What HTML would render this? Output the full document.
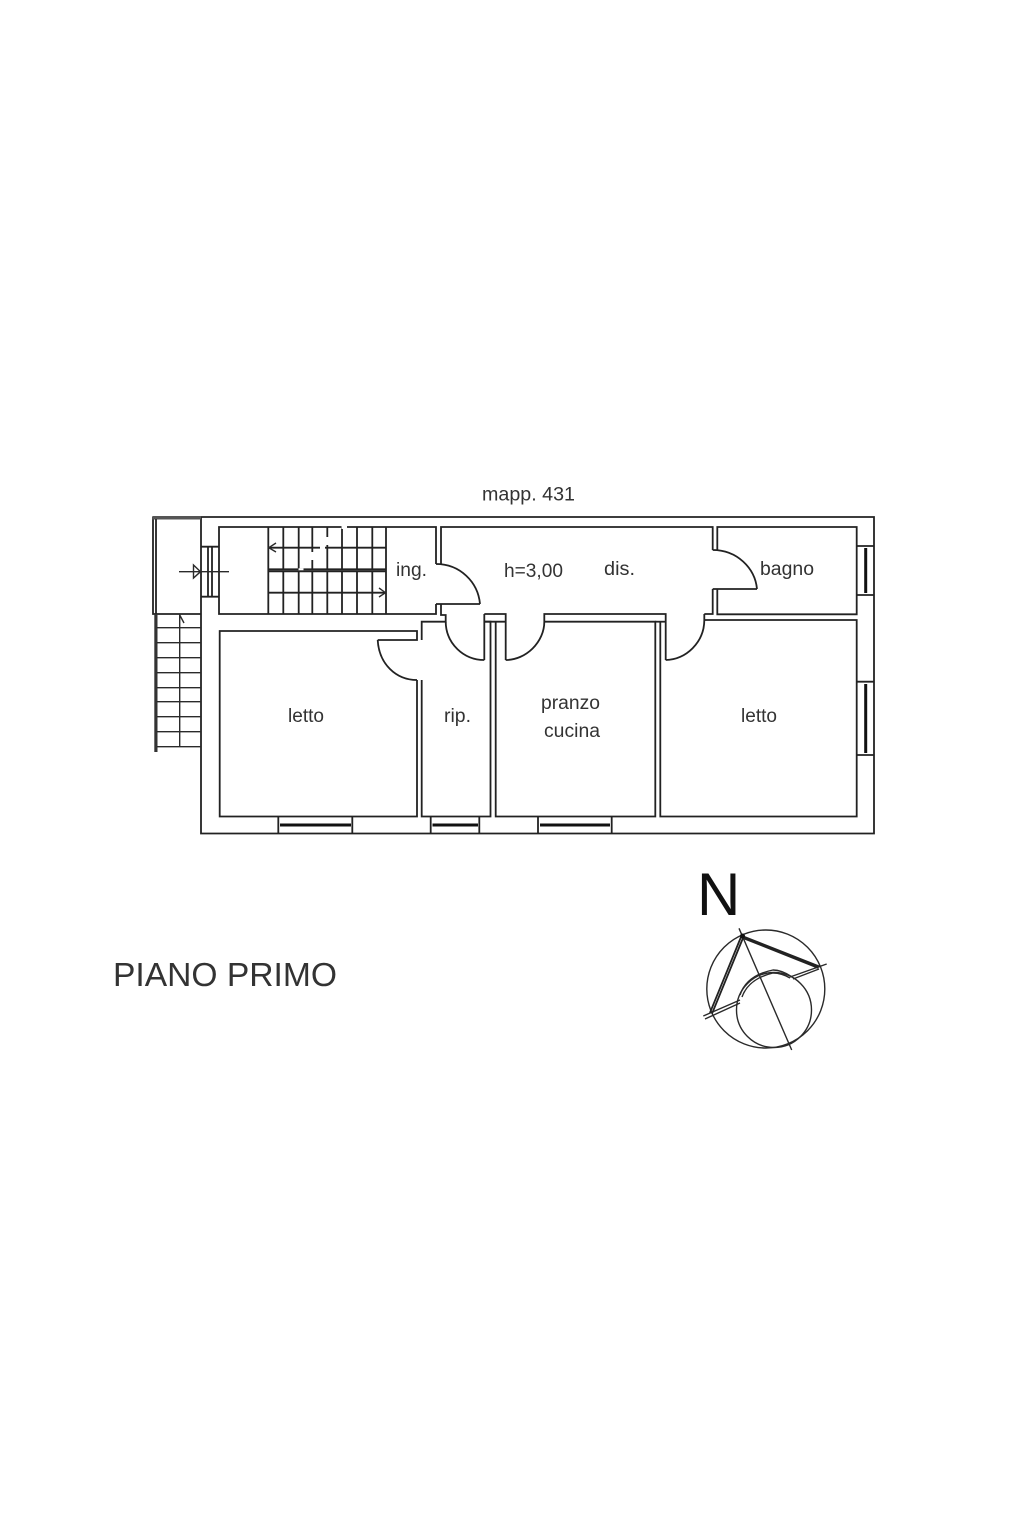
<!DOCTYPE html>
<html><head><meta charset="utf-8"><style>
html,body{margin:0;padding:0;background:#fff}
svg{display:block}
.w{fill:none;stroke:#222;stroke-width:1.8}
.t{fill:none;stroke:#2a2a2a;stroke-width:1.4}
.k{fill:none;stroke:#111;stroke-width:3}
text{font-family:"Liberation Sans",Arial,sans-serif;fill:#333;font-size:19px}
</style></head><body>
<svg width="1024" height="1536" viewBox="0 0 1024 1536" xmlns="http://www.w3.org/2000/svg">
<rect width="1024" height="1536" fill="#fff"/>

<!-- outer walls -->
<path class="w" d="M201 517H874V833.500H201Z"/>

<!-- balcony -->
<path class="w" d="M201 517.500H153V614H157"/>
<path d="M152.500 516H201V519.500H152.500Z" fill="#555"/>
<path class="w" d="M156 519V614H201"/>
<path d="M154.300 614H157.500V752H154.300Z" fill="#333"/>
<path class="t" d="M157 627.700H201M157 642.700H201M157 657.700H201M157 672.700H201M157 687.700H201M157 701.700H201M157 716.700H201M157 731.700H201M157 746.700H201M179.700 614V746.700M179.700 615L184 623"/>

<!-- stair room -->
<path class="w" d="M436 564V527H219V614H436V604"/>
<path class="w" d="M283.300 527V569M298.700 527V569M312.300 527V569M327.300 527V569M342 527V569M357 527V569M372.300 527V569M283.300 571V614M298.700 571V614M312.300 571V614M327.300 571V614M342 571V614M357 571V614M372.300 571V614"/>
<path class="w" d="M268.300 527V614M386 527V614"/>
<path class="w" d="M268.300 547.700H386M268.300 569.300H386M268.300 571.300H386M268.300 592.700H386"/>
<path class="t" d="M276 543L268.800 547.700L276 552M379 588L385.500 592.700L379 597"/>
<path d="M341.500 525.500H347V529H341.500ZM298.500 568.200H303.500V570.300H298.500ZM320 546.500H325V549H320ZM311 552H313.500V560H311ZM326 537H328.500V545H326Z" fill="#fff"/>

<!-- left window and door symbol -->
<path class="w" d="M201 546.700H219M201 596.700H219"/>
<path class="w" d="M208 546.700V596.700M212 546.700V596.700"/>
<path class="t" d="M179 571.700H229"/>
<path class="t" d="M193.500 565V578L200.500 571.700Z"/>

<!-- corridor -->
<path class="w" d="M441 564V527H712.700V550M717.300 550V527H856.700V614.300H717.300V589M712.700 589V614H704.300M441 604V615H445.700V621.700H421.700V640M436 604H480M712.700 589H757"/>
<path class="w" d="M436 564C460 564 478 582 480 604"/>
<path class="w" d="M712.700 550C737 550 755 568 757 589"/>

<!-- letto left -->
<path class="w" d="M417 680V816.500H219.700V631H417V640H377.700"/>
<path class="w" d="M377.700 640C379 664 396 680 417 680"/>

<!-- rip -->
<path class="w" d="M421.700 680V816.500H490.500V621.700H484.300M484.300 614V660"/>
<path class="w" d="M445.700 621.700C446 644 464 660 484.300 660"/>
<path class="w" d="M484.300 614H505.700V660M484.300 621.700H505.700"/>
<path class="w" d="M505.700 660C526 660 544.300 642 544.300 621.700V614H665.700V660"/>

<!-- pranzo -->
<path class="w" d="M495.700 621.700V816.500H655.300V621.700H544.300"/>

<!-- letto right -->
<path class="w" d="M660.300 621.700V816.500H856.700V620H704.300"/>
<path class="w" d="M655.300 621.700H665.700"/>
<path class="w" d="M665.700 660C686 660 704.300 642 704.300 620V614"/>

<!-- windows right -->
<path class="w" d="M856.700 546H874M856.700 595H874M856.700 681.700H874M856.700 755H874"/>
<path class="k" d="M865.700 548V593M865.700 684V753"/>
<!-- windows bottom -->
<path class="w" d="M278.300 816.500V833.500M352.300 816.500V833.500M430.700 816.500V833.500M479.300 816.500V833.500M538 816.500V833.500M611.700 816.500V833.500"/>
<path class="k" d="M280 825H351M432.500 825H478M540 825H610"/>

<!-- labels -->
<text x="482" y="500.500" textLength="93" lengthAdjust="spacingAndGlyphs">mapp. 431</text>
<text x="396" y="576" textLength="31" lengthAdjust="spacingAndGlyphs">ing.</text>
<text x="504" y="577" textLength="59" lengthAdjust="spacingAndGlyphs">h=3,00</text>
<text x="604" y="575" textLength="31" lengthAdjust="spacingAndGlyphs">dis.</text>
<text x="760" y="575" textLength="54" lengthAdjust="spacingAndGlyphs">bagno</text>
<text x="288" y="722" textLength="36" lengthAdjust="spacingAndGlyphs">letto</text>
<text x="444" y="722" textLength="27" lengthAdjust="spacingAndGlyphs">rip.</text>
<text x="541" y="709" textLength="59" lengthAdjust="spacingAndGlyphs">pranzo</text>
<text x="544" y="737" textLength="56" lengthAdjust="spacingAndGlyphs">cucina</text>
<text x="741" y="722" textLength="36" lengthAdjust="spacingAndGlyphs">letto</text>
<text x="113" y="986" style="font-size:33.6px" textLength="224" lengthAdjust="spacingAndGlyphs">PIANO PRIMO</text>
<text x="697" y="915" style="font-size:60px;fill:#111">N</text>

<!-- north symbol -->
<circle class="t" cx="765.800" cy="989" r="59"/>
<circle class="t" cx="774" cy="1010" r="37.500"/>
<path class="t" d="M739 928.300L791.700 1050M703.300 1016L740 1000M826.700 964L790 977"/>
<path class="w" d="M742 936L820 966.700M743 938L818.500 968M741 937L710 1012.700M743 938L712 1013.700"/>
<path class="t" d="M705 1019L740 1003M793 979L819 969"/>
<path class="t" d="M740 995C745 980 758 973 773 970C780 970 786 973 791.700 976.700M742 997C747 983 760 976 773 973C780 973 785 975 790 978"/>
<circle cx="742.500" cy="936" r="2.500" fill="#111"/>
</svg>
</body></html>
